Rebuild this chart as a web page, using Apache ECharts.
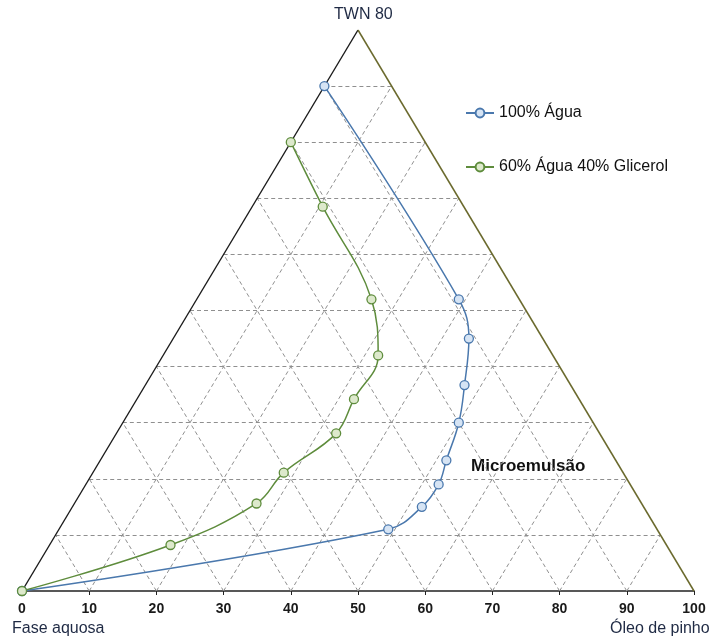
<!DOCTYPE html>
<html>
<head>
<meta charset="utf-8">
<script src="https://cdn.jsdelivr.net/npm/echarts@6/dist/echarts.min.js"></script>
<style>html,body{margin:0;padding:0;background:#fff}#c{width:716px;height:644px}</style>
</head>
<body>
<div id="c"></div>
<script>
// Ternary data: oil (Óleo de pinho %) and surfactant (TWN 80 %); water = 100 - oil - twn
var seriesNames = ['100% Água', '60% Água 40% Glicerol'];
var aguaOil = [0, 39, 44, 47.5, 50, 51.5, 52.5, 52, 49, 0];
var aguaTwn = [90, 52, 45, 36.7, 30, 23.3, 19, 15, 11, 0];
var glicOil = [0, 10.5, 26, 32, 32.3, 32.7, 28.4, 27.1, 18, 0];
var glicTwn = [80, 68.5, 52, 42, 34.2, 28.1, 21.1, 15.6, 8.2, 0];
var tickLabels = ['0','10','20','30','40','50','60','70','80','90','100'];
var gridSteps = [10, 20, 30, 40, 50, 60, 70, 80, 90];

function tern(oil, twn) { return [oil + twn / 2, twn]; }
function toPts(oil, twn) { return oil.map(function (o, i) { return tern(o, twn[i]); }); }

var gridLines = [];
gridSteps.forEach(function (k) {
  gridLines.push({ coords: [tern(0, k), tern(100 - k, k)] });
  gridLines.push({ coords: [tern(k, 0), tern(k, 100 - k)] });
  gridLines.push({ coords: [tern(100 - k, 0), tern(0, 100 - k)] });
});

var font = 'Liberation Sans, Arial, Helvetica, sans-serif';
var blue = '#4a78ad', blueFill = '#d6e4f4';
var green = '#5e8c3c', greenFill = '#dde9cc';

var chart = echarts.init(document.getElementById('c'));
chart.setOption({
  animation: false,
  textStyle: { fontFamily: font },
  grid: { left: 22, top: 30, width: 672, height: 561 },
  xAxis: {
    type: 'value', min: 0, max: 100, interval: 10,
    axisLine: { lineStyle: { color: '#222', width: 1.5 } },
    axisTick: { show: true, length: 4, lineStyle: { color: '#222' } },
    splitLine: { show: false },
    axisLabel: {
      margin: 11, fontSize: 14, fontWeight: 'bold', color: '#1a1a1a', fontFamily: font,
      formatter: function (v) { return tickLabels[Math.round(v / 10)]; }
    }
  },
  yAxis: { type: 'value', min: 0, max: 100, show: false },
  legend: {
    orient: 'vertical', left: 465, top: 105, itemGap: 38,
    itemWidth: 28, itemHeight: 11, padding: 0,
    data: seriesNames,
    textStyle: { fontSize: 16, color: '#111', fontFamily: font }
  },
  graphic: [
    { type: 'text', left: 334, top: 7, style: { text: 'TWN 80', fontSize: 16, fill: '#1f2a44', fontFamily: font } },
    { type: 'text', left: 12, top: 621, style: { text: 'Fase aquosa', fontSize: 16, fill: '#1f2a44', fontFamily: font } },
    { type: 'text', left: 610, top: 621, style: { text: 'Óleo de pinho', fontSize: 16, fill: '#1f2a44', fontFamily: font } },
    { type: 'text', left: 471, top: 458, style: { text: 'Microemulsão', fontSize: 17, fontWeight: 'bold', fill: '#111', fontFamily: font } }
  ],
  series: [
    {
      type: 'lines', coordinateSystem: 'cartesian2d', silent: true, z: 1,
      lineStyle: { color: '#8f8f8f', width: 1, type: [4, 3], opacity: 1 },
      data: gridLines
    },
    {
      type: 'lines', coordinateSystem: 'cartesian2d', silent: true, z: 2,
      lineStyle: { color: '#1a1a1a', width: 1.4, opacity: 1 },
      data: [{ coords: [tern(0, 0), tern(0, 100)] }]
    },
    {
      type: 'lines', coordinateSystem: 'cartesian2d', silent: true, z: 2,
      lineStyle: { color: '#6b6a2e', width: 1.5, opacity: 1 },
      data: [{ coords: [tern(100, 0), tern(0, 100)] }]
    },
    {
      name: seriesNames[0], type: 'line', smooth: 0.4, z: 5,
      data: toPts(aguaOil, aguaTwn),
      symbol: 'circle', symbolSize: 9,
      lineStyle: { color: blue, width: 1.5 },
      itemStyle: { color: blueFill, borderColor: blue, borderWidth: 1.3 }
    },
    {
      name: seriesNames[1], type: 'line', smooth: 0.4, z: 5,
      data: toPts(glicOil, glicTwn),
      symbol: 'circle', symbolSize: 9,
      lineStyle: { color: green, width: 1.5 },
      itemStyle: { color: greenFill, borderColor: green, borderWidth: 1.3 }
    }
  ]
});
</script>
</body>
</html>
